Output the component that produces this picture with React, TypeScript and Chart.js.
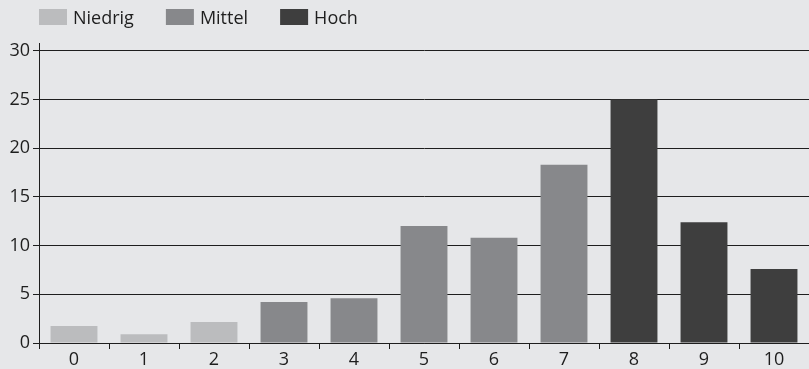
import React, { useEffect, useRef } from "react";
import { Chart, registerables } from "chart.js";

Chart.register(...registerables);

const categories = ["0", "1", "2", "3", "4", "5", "6", "7", "8", "9", "10"];
const niedrig = [1.75, 0.9, 2.15, null, null, null, null, null, null, null, null];
const mittel = [null, null, null, 4.2, 4.6, 12.0, 10.8, 18.3, null, null, null];
const hoch = [null, null, null, null, null, null, null, null, 25.0, 12.4, 7.6];
const seriesLabels = ["Niedrig", "Mittel", "Hoch"];
const seriesColors = ["#bbbcbe", "#87888b", "#3e3e3e"];
const yTicks = [0, 5, 10, 15, 20, 25, 30];

const BG = "#e6e7e9";
const INK = "#1e1e1e";
const FONT = '"Open Sans", "DejaVu Sans", sans-serif';

const bgPlugin = {
  id: "bgFill",
  beforeDraw(chart: any) {
    const ctx = chart.ctx;
    ctx.save();
    ctx.fillStyle = BG;
    ctx.fillRect(0, 0, chart.width, chart.height);
    ctx.restore();
  },
};

const legendPlugin = {
  id: "customLegend",
  afterDraw(chart: any) {
    const ctx = chart.ctx;
    ctx.save();
    ctx.font = `18px ${FONT}`;
    ctx.textBaseline = "alphabetic";
    ctx.textAlign = "left";
    let x = 39;
    chart.data.datasets.forEach((ds: any) => {
      ctx.fillStyle = ds.backgroundColor;
      ctx.fillRect(x, 9, 28, 16);
      ctx.fillStyle = INK;
      ctx.fillText(ds.label, x + 34, 24);
      x += 34 + ctx.measureText(ds.label).width + 32;
    });
    ctx.restore();
  },
};

export default function App() {
  const ref = useRef<HTMLCanvasElement>(null);

  useEffect(() => {
    document.body.style.margin = "0";
    document.body.style.background = BG;
    const canvas = ref.current;
    if (!canvas) return;
    const seriesData = [niedrig, mittel, hoch];
    const chart = new Chart(canvas, {
      type: "bar",
      data: {
        labels: categories,
        datasets: seriesLabels.map((label, i) => ({
          label,
          data: seriesData[i] as any,
          backgroundColor: seriesColors[i],
          borderWidth: 0,
          barPercentage: 0.67,
          categoryPercentage: 1.0,
        })),
      },
      options: {
        animation: false,
        responsive: false,
        maintainAspectRatio: false,
        devicePixelRatio: 1,
        datasets: { bar: { grouped: false } } as any,
        layout: { padding: { top: 43, left: 0, right: 0, bottom: 0 } },
        plugins: {
          legend: { display: false },
          tooltip: { enabled: false },
        },
        scales: {
          x: {
            grid: {
              drawOnChartArea: false,
              drawTicks: true,
              tickLength: 6,
              color: INK,
              offset: true,
            },
            border: { color: INK, width: 1 },
            ticks: { color: INK, font: { family: FONT, size: 18 }, padding: 0 },
            afterFit: (s: any) => {
              s.height = 26;
            },
          },
          y: {
            min: 0,
            max: 30.8,
            ticks: {
              color: INK,
              font: { family: FONT, size: 18 },
              padding: 3,
            },
            afterBuildTicks: (s: any) => {
              s.ticks = yTicks.map((v) => ({ value: v }));
            },
            grid: { color: INK, tickLength: 6, lineWidth: 1 },
            border: { color: INK, width: 1 },
            afterFit: (s: any) => {
              s.width = 39;
            },
          },
        },
      },
      plugins: [bgPlugin, legendPlugin],
    });
    return () => chart.destroy();
  }, []);

  return (
    <div style={{ width: 809, height: 369, background: BG }}>
      <canvas ref={ref} width={809} height={369} style={{ display: "block" }} />
    </div>
  );
}
